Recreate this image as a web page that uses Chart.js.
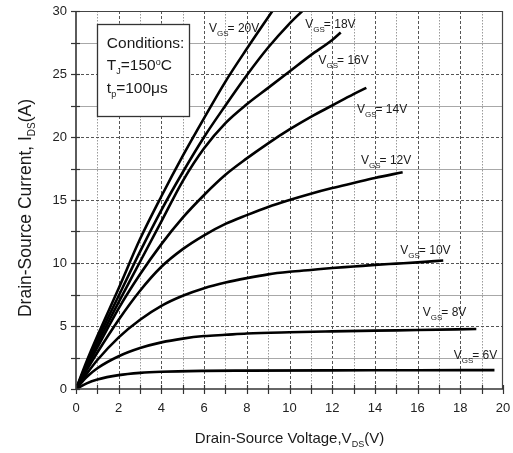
<!DOCTYPE html>
<html>
<head>
<meta charset="utf-8">
<script src="https://cdn.jsdelivr.net/npm/chart.js@4.4.1/dist/chart.umd.min.js"></script>
<style>
html, body { margin: 0; padding: 0; background: #fff; }
</style>
</head>
<body>
<canvas id="outputChart" width="513" height="453"></canvas>
<script>
// Output characteristics, Tj = 150C, one curve per gate voltage
const gateVoltages = [20, 18, 16, 14, 12, 10, 8, 6]

const vds20 = [0, 0.5, 1, 2, 3, 4, 5, 6, 7, 8, 9.2]
const ids20 = [0, 2.2, 4.2, 8.0, 11.9, 15.3, 18.5, 21.5, 24.4, 27.0, 30]

const vds18 = [0, 0.5, 1, 2, 3, 4, 5, 6, 7, 8, 9, 10, 10.6]
const ids18 = [0, 2.0, 3.9, 7.4, 10.9, 14.2, 17.2, 20.0, 22.5, 24.9, 27.1, 29.0, 30]

const vds16 = [0, 0.5, 1, 2, 3, 4, 5, 6, 7, 8, 9, 10, 11, 12, 12.4]
const ids16 = [0, 1.85, 3.6, 6.9, 10.1, 13.3, 16.5, 19.1, 21.1, 22.6, 23.9, 25.2, 26.5, 27.7, 28.3]

const vds14 = [0, 0.5, 1, 2, 3, 4, 5, 6, 7, 8, 9, 10, 11, 12, 13, 13.6]
const ids14 = [0, 1.7, 3.3, 6.4, 9.1, 11.5, 13.6, 15.4, 17.0, 18.3, 19.5, 20.6, 21.6, 22.5, 23.4, 23.9]

const vds12 = [0, 0.5, 1, 2, 3, 4, 5, 6, 7, 8, 9, 10, 11, 12, 13, 14, 15.3]
const ids12 = [0, 1.5, 2.9, 5.5, 7.8, 9.7, 11.1, 12.2, 13.1, 13.8, 14.45, 15.0, 15.5, 15.95, 16.35, 16.75, 17.2]

const vds10 = [0, 0.5, 1, 2, 3, 4, 5, 6, 7, 8, 9, 10, 11, 12, 13, 14, 15, 16, 17.2]
const ids10 = [0, 1.2, 2.3, 4.1, 5.5, 6.6, 7.4, 8.0, 8.45, 8.8, 9.1, 9.3, 9.45, 9.6, 9.72, 9.85, 9.95, 10.05, 10.2]

const vds8 = [0, 0.5, 1, 2, 3, 4, 5, 6, 7, 8, 10, 12, 14, 16, 18.75]
const ids8 = [0, 0.95, 1.65, 2.6, 3.25, 3.7, 4.0, 4.2, 4.3, 4.4, 4.5, 4.57, 4.63, 4.68, 4.76]

const vds6 = [0, 0.5, 1, 2, 3, 4, 6, 8, 12, 16, 19.6]
const ids6 = [0, 0.45, 0.75, 1.1, 1.28, 1.37, 1.44, 1.46, 1.48, 1.49, 1.5]

const curveVds = [vds20, vds18, vds16, vds14, vds12, vds10, vds8, vds6]
const curveIds = [ids20, ids18, ids16, ids14, ids12, ids10, ids8, ids6]

// axis ranges and tick steps
const xMax = 20, xLabelStep = 2, xGridStep = 1
const yMax = 30, yLabelStep = 5, yGridStep = 2.5

// where each "VGS= ..V" tag sits, in axis units (left of V, baseline)
const tagAnchors = [[6.23, 28.3], [10.74, 28.65], [11.36, 25.8], [13.16, 21.9], [13.35, 17.86], [15.19, 10.7], [16.24, 5.8], [17.69, 2.38]]

const FONT = '"Liberation Sans", Arial, sans-serif'
const INK = '#1a1a1a'

// draws a row of text pieces, each {t, size, dy}
function drawRich(ctx, parts, x, y, align){
    let total = 0
    for(const p of parts){
        ctx.font = `${p.size}px ${FONT}`
        total += ctx.measureText(p.t).width + (p.kern || 0)
    }
    let cx = align === "center" ? x - total / 2 : x
    ctx.textAlign = "left"
    ctx.textBaseline = "alphabetic"
    for(const p of parts){
        ctx.font = `${p.size}px ${FONT}`
        ctx.fillText(p.t, cx, y + (p.dy || 0))
        cx += ctx.measureText(p.t).width + (p.kern || 0)
    }
}

function line(ctx, x1, y1, x2, y2){
    ctx.beginPath()
    ctx.moveTo(x1, y1)
    ctx.lineTo(x2, y2)
    ctx.stroke()
}

const gridPlugin = {
    id: "gridPlugin",
    beforeDatasetsDraw(chart){
        const ctx = chart.ctx
        const {left, right, top, bottom} = chart.chartArea
        const xs = chart.scales.x, ys = chart.scales.y
        ctx.save()
        ctx.lineWidth = 1
        for(let v = xGridStep; v < xMax; v += xGridStep){
            const px = Math.round(xs.getPixelForValue(v)) + 0.5
            const major = v % xLabelStep === 0
            ctx.strokeStyle = major ? "#555" : "#9a9a9a"
            ctx.setLineDash(major ? [3, 2] : [1.5, 1.5])
            line(ctx, px, top, px, bottom)
        }
        for(let v = yGridStep; v < yMax; v += yGridStep){
            const py = Math.round(ys.getPixelForValue(v)) + 0.5
            const major = v % yLabelStep === 0
            ctx.strokeStyle = major ? "#555" : "#a8a8a8"
            ctx.setLineDash(major ? [3, 2] : [])
            line(ctx, left, py, right, py)
        }
        ctx.restore()
    },
    afterDatasetsDraw(chart){
        const ctx = chart.ctx
        const {left, right, top, bottom} = chart.chartArea
        const xs = chart.scales.x, ys = chart.scales.y
        ctx.save()
        // frame
        ctx.setLineDash([])
        ctx.strokeStyle = "#444"
        ctx.lineWidth = 1.2
        line(ctx, left, top + 0.5, right, top + 0.5)
        line(ctx, right - 0.5, top, right - 0.5, bottom)
        ctx.strokeStyle = "#333"
        ctx.lineWidth = 1.6
        line(ctx, left, bottom, right, bottom)
        line(ctx, left, top, left, bottom)
        // small tick marks across the axes
        ctx.lineWidth = 1.2
        for(let v = 0; v <= xMax; v += xGridStep){
            const px = Math.round(xs.getPixelForValue(v)) + 0.5
            line(ctx, px, bottom - 4, px, bottom + 5)
        }
        for(let v = 0; v <= yMax; v += yGridStep){
            const py = Math.round(ys.getPixelForValue(v)) + 0.5
            line(ctx, left - 5, py, left + 4, py)
        }

        // conditions box
        const bx1 = xs.getPixelForValue(1.0), bx2 = xs.getPixelForValue(5.3)
        const by1 = ys.getPixelForValue(29.0), by2 = ys.getPixelForValue(21.67)
        ctx.fillStyle = "#fff"
        ctx.fillRect(bx1, by1, bx2 - bx1, by2 - by1)
        ctx.strokeStyle = "#333"
        ctx.lineWidth = 1.3
        ctx.strokeRect(Math.round(bx1) + 0.5, Math.round(by1) + 0.5, Math.round(bx2 - bx1), Math.round(by2 - by1))
        ctx.fillStyle = INK
        const tx = bx1 + 9.5
        drawRich(ctx, [{t: "Conditions:", size: 15.5}], tx, by1 + 24.5)
        drawRich(ctx, [{t: "T", size: 15.5}, {t: "J", size: 9, dy: 4}, {t: "=150", size: 15.5}, {t: "o", size: 9, dy: -5}, {t: "C", size: 15.5}], tx, by1 + 46.5)
        drawRich(ctx, [{t: "t", size: 15.5}, {t: "p", size: 9, dy: 4}, {t: "=100\u03bcs", size: 15.5}], tx, by1 + 69.5)

        // curve tags
        gateVoltages.forEach((vg, i) => {
            const px = xs.getPixelForValue(tagAnchors[i][0])
            const py = ys.getPixelForValue(tagAnchors[i][1])
            drawRich(ctx, [{t: "V", size: 12}, {t: "GS", size: 8, dy: 4, kern: -1}, {t: "= " + vg + "V", size: 12}], px, py)
        })

        // axis titles with subscripts
        drawRich(ctx, [{t: "Drain-Source Voltage,V", size: 15}, {t: "DS", size: 9, dy: 4}, {t: "(V)", size: 15}], (left + right) / 2, 443, "center")
        ctx.translate(31, 208)
        ctx.rotate(-Math.PI / 2)
        drawRich(ctx, [{t: "Drain-Source Current, I", size: 17.5}, {t: "DS", size: 10, dy: 4}, {t: "(A)", size: 17.5}], 0, 0, "center")
        ctx.restore()
    }
}

const datasets = gateVoltages.map((vg, i) => ({
    label: `VGS=${vg}V`,
    data: curveVds[i].map((v, k) => ({x: v, y: curveIds[i][k]})),
    borderColor: "#000",
    borderWidth: 2.6,
    pointRadius: 0,
    fill: false,
    cubicInterpolationMode: "monotone"
}))

const tickFont = {family: FONT, size: 13}

new Chart(document.querySelector("#outputChart"), {
    type: "line",
    data: {datasets},
    options: {
        responsive: false,
        animation: false,
        layout: {padding: {top: 11, right: 10, left: 0, bottom: 0}},
        plugins: {legend: {display: false}, tooltip: {enabled: false}},
        scales: {
            x: {
                type: "linear", min: 0, max: xMax,
                grid: {display: false, drawTicks: false},
                border: {display: false},
                ticks: {stepSize: xLabelStep, padding: 12, color: "#222", font: tickFont},
                afterFit: s => { s.height = 64; s.paddingLeft = 0; s.paddingRight = 0 }
            },
            y: {
                type: "linear", min: 0, max: yMax,
                grid: {display: false, drawTicks: false},
                border: {display: false},
                ticks: {stepSize: yLabelStep, padding: 9, color: "#222", font: tickFont},
                afterFit: s => { s.width = 76; s.paddingTop = 0; s.paddingBottom = 0 }
            }
        }
    },
    plugins: [gridPlugin]
})
</script>
</body>
</html>
